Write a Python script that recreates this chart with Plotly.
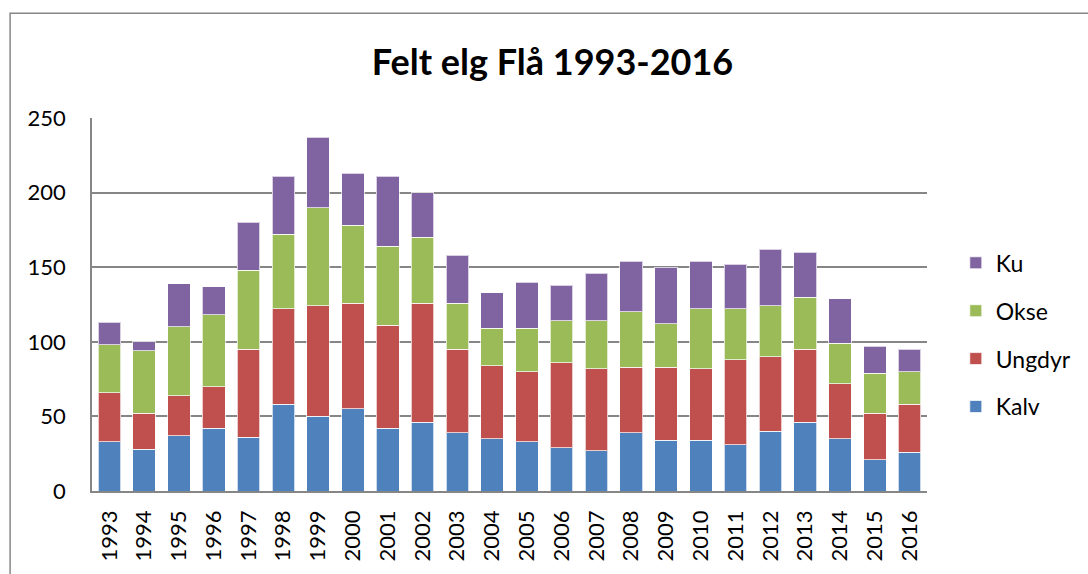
import plotly.graph_objects as go

years = [str(y) for y in range(1993, 2017)]
kalv =   [33, 28, 37, 42, 36, 58, 50, 55, 42, 46, 39, 35, 33, 29, 27, 39, 34, 34, 31, 40, 46, 35, 21, 26]
ungdyr = [33, 24, 27, 28, 59, 64, 74, 71, 69, 80, 56, 49, 47, 57, 55, 44, 49, 48, 57, 50, 49, 37, 31, 32]
okse =   [32, 42, 46, 48, 53, 50, 66, 52, 53, 44, 31, 25, 29, 28, 32, 37, 29, 40, 34, 34, 35, 27, 27, 22]
ku =     [15,  6, 29, 19, 32, 39, 47, 35, 47, 30, 32, 24, 31, 24, 32, 34, 38, 32, 30, 38, 30, 30, 18, 15]

series = [
    ("Kalv", kalv, "#4F81BD", 4),
    ("Ungdyr", ungdyr, "#C0504D", 3),
    ("Okse", okse, "#9BBB59", 2),
    ("Ku", ku, "#8064A2", 1),
]

fig = go.Figure()
for name, vals, col, rank in series:
    fig.add_trace(go.Bar(
        x=years, y=vals, name=name, legendgroup=name, legendrank=rank,
        marker=dict(color=col, line=dict(color="rgba(255,255,255,0.7)", width=1)),
    ))

W, H = 1088, 574
ml, mr, mt, mb = 92, 155, 118, 81
pw, ph = W - ml - mr, H - mt - mb

def px_x(px):
    return (px - ml) / pw

def px_y(py):
    return (H - mb - py) / ph

font_main = "Lato, 'Open Sans', sans-serif"

fig.update_layout(
    width=W, height=H,
    margin=dict(l=ml, r=mr, t=mt, b=mb, pad=0),
    barmode="stack",
    bargap=0.35,
    paper_bgcolor="white",
    plot_bgcolor="white",
    font=dict(family=font_main, size=22, color="#000000"),
    title=dict(
        text="<b>Felt elg Flå 1993-2016</b>",
        x=552.5 / W, xanchor="center",
        y=1 - 62.5 / H, yanchor="middle",
        font=dict(family=font_main, size=36, color="#000000"),
    ),
    legend=dict(
        x=px_x(962), xanchor="left",
        y=px_y(242), yanchor="top",
        traceorder="grouped",
        tracegroupgap=15,
        font=dict(family=font_main, size=23, color="#000000"),
        bgcolor="rgba(0,0,0,0)",
    ),
    xaxis=dict(
        type="category",
        tickangle=-90,
        showgrid=False,
        showline=True, linecolor="#868686", linewidth=1.5,
        ticks="", ticklabelstandoff=9,
        tickfont=dict(family=font_main, size=22),
    ),
    yaxis=dict(
        range=[0, 250],
        tickvals=[0, 50, 100, 150, 200, 250],
        showgrid=True, gridcolor="#868686", gridwidth=1.5,
        showline=True, linecolor="#868686", linewidth=1.5,
        zeroline=False,
        ticks="", ticklabelstandoff=20,
        tickfont=dict(family=font_main, size=22),
    ),
    shapes=[dict(
        type="rect", xref="paper", yref="paper",
        x0=px_x(9.5), x1=px_x(1120), y0=px_y(610), y1=px_y(12.7),
        line=dict(color="#878787", width=1.5), fillcolor="rgba(0,0,0,0)",
        layer="below",
    )],
)

fig.write_html(
    "out.html",
    config={"displayModeBar": False},
    post_script="document.body.style.margin='0';document.body.style.overflow='hidden';",
)
